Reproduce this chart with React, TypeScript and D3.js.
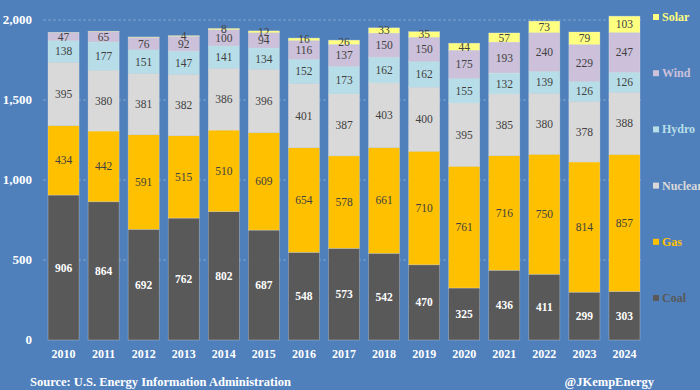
import React, { useEffect, useRef } from 'react';
import * as d3 from 'd3';

const years = ['2010', '2011', '2012', '2013', '2014', '2015', '2016', '2017', '2018', '2019', '2020', '2021', '2022', '2023', '2024'];
const coal = [906, 864, 692, 762, 802, 687, 548, 573, 542, 470, 325, 436, 411, 299, 303];
const gas = [434, 442, 591, 515, 510, 609, 654, 578, 661, 710, 761, 716, 750, 814, 857];
const nuclear = [395, 380, 381, 382, 386, 396, 401, 387, 403, 400, 395, 385, 380, 378, 388];
const hydro = [138, 177, 151, 147, 141, 134, 152, 173, 162, 162, 155, 132, 139, 126, 126];
const wind = [47, 65, 76, 92, 100, 94, 116, 137, 150, 150, 175, 193, 240, 229, 247];
const solar = [1, 2, 3, 4, 8, 12, 16, 26, 33, 35, 44, 57, 73, 79, 103];

const seriesNames = ['Coal', 'Gas', 'Nuclear', 'Hydro', 'Wind', 'Solar'];
const seriesColors = ['#595959', '#ffc000', '#d9d9d9', '#b7dee8', '#ccc0da', '#ffff80'];
const yTicks = [0, 500, 1000, 1500, 2000];

const FONT = '"Liberation Serif", "DejaVu Serif", serif';

export default function App() {
    const ref = useRef<SVGSVGElement>(null);

    useEffect(() => {
        const width = 700, height = 390;
        const svg = d3.select(ref.current);
        svg.selectAll('*').remove();
        svg.attr('width', width).attr('height', height);

        svg.append('rect').attr('width', width).attr('height', height).attr('fill', '#4f80bc');

        const x = d3.scaleBand().domain(years).range([39, 649]).padding(0.225);
        const y = d3.scaleLinear().domain([0, 2000]).range([340, 20]);

        // gridlines
        svg.append('g').selectAll('line')
            .data(yTicks.filter(t => t > 0))
            .enter().append('line')
            .attr('x1', 43).attr('x2', 643)
            .attr('y1', d => y(d)).attr('y2', d => y(d))
            .attr('stroke', '#7fa3d0').attr('stroke-width', 1)
            .attr('stroke-dasharray', '3,2');

        svg.append('g').selectAll('text')
            .data(yTicks)
            .enter().append('text')
            .attr('x', 32).attr('y', d => y(d) + 4)
            .attr('text-anchor', 'end')
            .attr('fill', '#ffffff').attr('font-family', FONT)
            .attr('font-weight', 'bold').attr('font-size', 13)
            .text(d => d3.format(',')(d));

        const table = years.map((yr, i) => ({
            year: yr, Coal: coal[i], Gas: gas[i], Nuclear: nuclear[i], Hydro: hydro[i], Wind: wind[i], Solar: solar[i],
        }));
        const stacked = d3.stack<any>().keys(seriesNames)(table);

        stacked.forEach((layer, si) => {
            const g = svg.append('g');
            g.selectAll('rect')
                .data(layer)
                .enter().append('rect')
                .attr('x', d => x(d.data.year)!)
                .attr('width', x.bandwidth())
                .attr('y', d => y(d[1]))
                .attr('height', d => y(d[0]) - y(d[1]))
                .attr('fill', seriesColors[si])
                .attr('stroke', 'rgba(230,230,230,0.5)')
                .attr('stroke-width', 0.6);

            g.selectAll('text')
                .data(layer.filter(d => d[1] - d[0] >= 4))
                .enter().append('text')
                .attr('x', d => x(d.data.year)! + x.bandwidth() / 2)
                .attr('y', d => (y(d[0]) + y(d[1])) / 2 + 4)
                .attr('text-anchor', 'middle')
                .attr('font-family', FONT)
                .attr('font-size', 11.5)
                .attr('font-weight', si === 0 ? 'bold' : 'normal')
                .attr('fill', si === 0 ? '#ffffff' : '#404040')
                .text(d => d[1] - d[0]);
        });

        svg.append('g').selectAll('text')
            .data(years)
            .enter().append('text')
            .attr('x', d => x(d)! + x.bandwidth() / 2)
            .attr('y', 358)
            .attr('text-anchor', 'middle')
            .attr('fill', '#ffffff').attr('font-family', FONT)
            .attr('font-weight', 'bold').attr('font-size', 12)
            .text(d => d);

        // legend, top to bottom
        const legend = seriesNames.map((n, i) => ({ name: n, color: seriesColors[i] })).reverse();
        const lg = svg.append('g').selectAll('g')
            .data(legend)
            .enter().append('g')
            .attr('transform', (d, i) => `translate(653,${18 + i * 56.2})`);
        lg.append('rect').attr('x', 0).attr('y', -4).attr('width', 6).attr('height', 6).attr('fill', d => d.color);
        lg.append('text').attr('x', 9).attr('y', 3)
            .attr('fill', d => d.color).attr('font-family', FONT)
            .attr('font-weight', 'bold').attr('font-size', 12)
            .text(d => d.name);

        svg.append('text')
            .attr('x', 30).attr('y', 386)
            .attr('fill', '#ffffff').attr('font-family', FONT)
            .attr('font-weight', 'bold').attr('font-size', 12.5)
            .text('Source: U.S. Energy Information Administration');

        svg.append('text')
            .attr('x', 654).attr('y', 386)
            .attr('text-anchor', 'end')
            .attr('fill', '#ffffff').attr('font-family', FONT)
            .attr('font-weight', 'bold').attr('font-size', 12.5)
            .text('@JKempEnergy');
    }, []);

    return <svg ref={ref} style={{ position: 'absolute', left: 0, top: 0 }}></svg>;
}
